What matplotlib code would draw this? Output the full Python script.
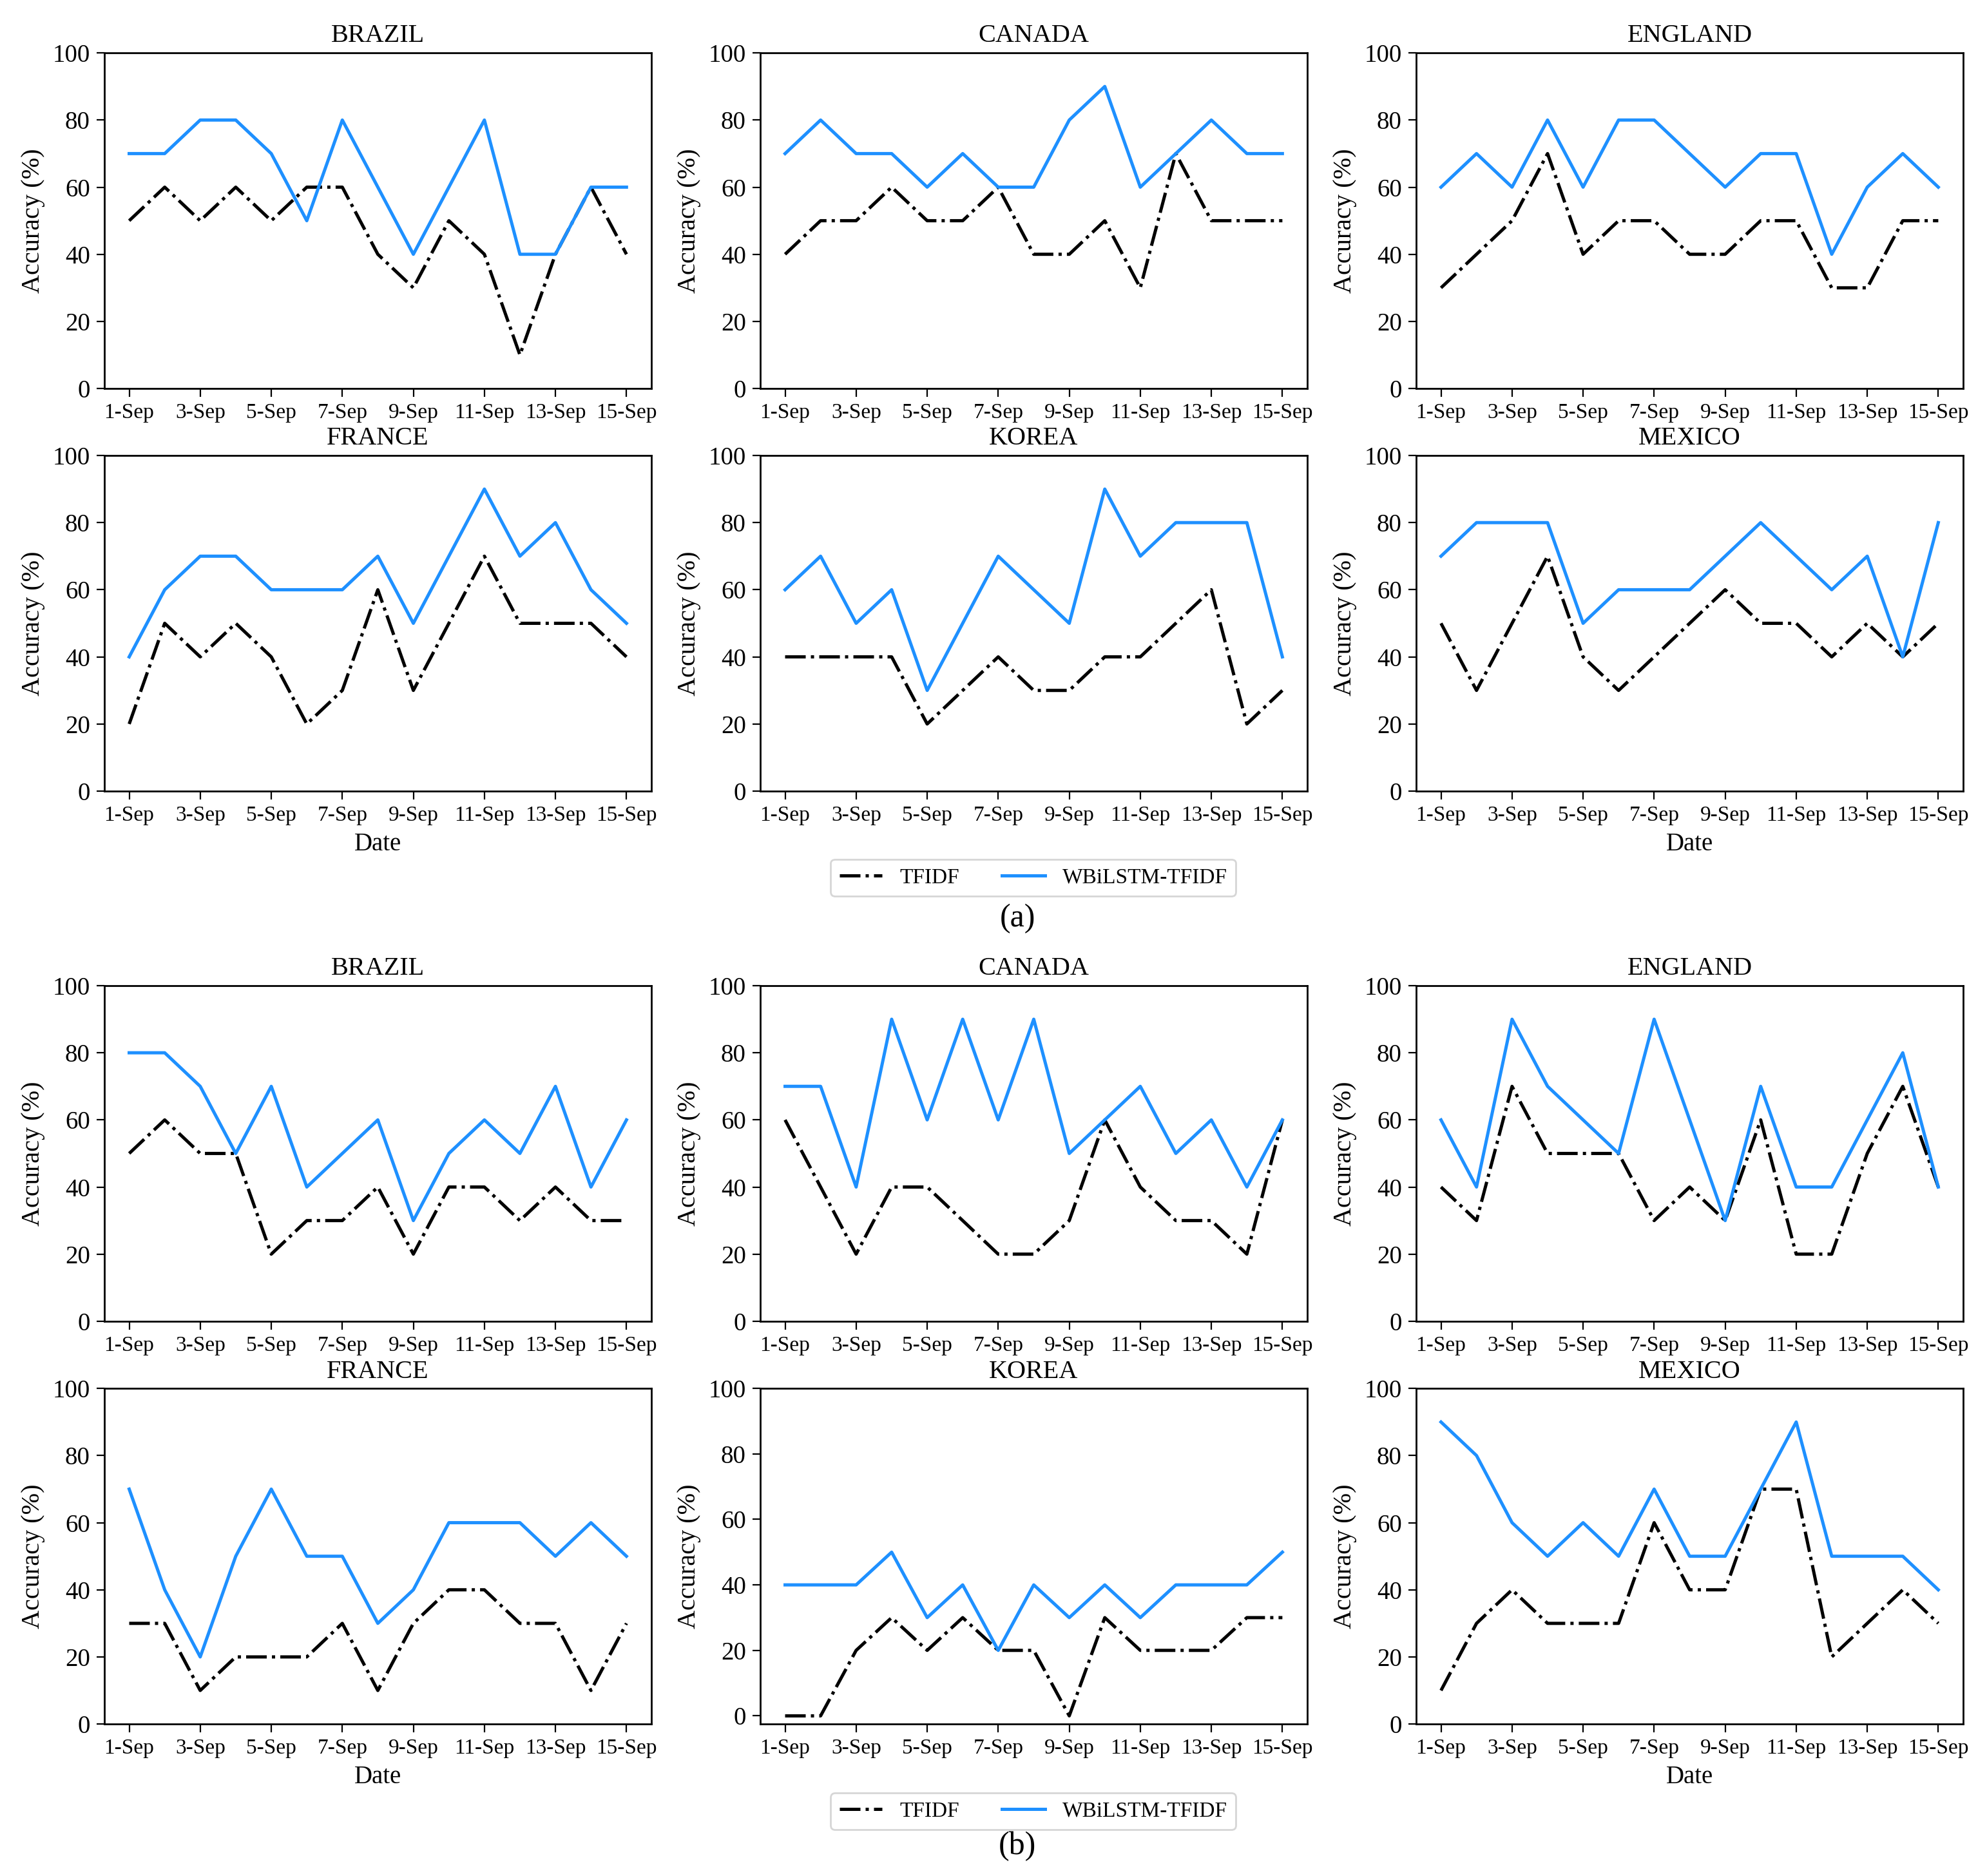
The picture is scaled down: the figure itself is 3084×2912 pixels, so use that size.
import numpy as np
import matplotlib
matplotlib.use('Agg')
import matplotlib.pyplot as plt

plt.rcParams['font.family'] = ['Liberation Serif', 'DejaVu Serif']

days = ['%d-Sep' % d for d in range(1, 16)]
countries = ['BRAZIL', 'CANADA', 'ENGLAND', 'FRANCE', 'KOREA', 'MEXICO']

# (a)
tfidf_a = {
    'BRAZIL':  [50, 60, 50, 60, 50, 60, 60, 40, 30, 50, 40, 10, 40, 60, 40],
    'CANADA':  [40, 50, 50, 60, 50, 50, 60, 40, 40, 50, 30, 70, 50, 50, 50],
    'ENGLAND': [30, 40, 50, 70, 40, 50, 50, 40, 40, 50, 50, 30, 30, 50, 50],
    'FRANCE':  [20, 50, 40, 50, 40, 20, 30, 60, 30, 50, 70, 50, 50, 50, 40],
    'KOREA':   [40, 40, 40, 40, 20, 30, 40, 30, 30, 40, 40, 50, 60, 20, 30],
    'MEXICO':  [50, 30, 50, 70, 40, 30, 40, 50, 60, 50, 50, 40, 50, 40, 50],
}
wbilstm_a = {
    'BRAZIL':  [70, 70, 80, 80, 70, 50, 80, 60, 40, 60, 80, 40, 40, 60, 60],
    'CANADA':  [70, 80, 70, 70, 60, 70, 60, 60, 80, 90, 60, 70, 80, 70, 70],
    'ENGLAND': [60, 70, 60, 80, 60, 80, 80, 70, 60, 70, 70, 40, 60, 70, 60],
    'FRANCE':  [40, 60, 70, 70, 60, 60, 60, 70, 50, 70, 90, 70, 80, 60, 50],
    'KOREA':   [60, 70, 50, 60, 30, 50, 70, 60, 50, 90, 70, 80, 80, 80, 40],
    'MEXICO':  [70, 80, 80, 80, 50, 60, 60, 60, 70, 80, 70, 60, 70, 40, 80],
}

# (b)
tfidf_b = {
    'BRAZIL':  [50, 60, 50, 50, 20, 30, 30, 40, 20, 40, 40, 30, 40, 30, 30],
    'CANADA':  [60, 40, 20, 40, 40, 30, 20, 20, 30, 60, 40, 30, 30, 20, 60],
    'ENGLAND': [40, 30, 70, 50, 50, 50, 30, 40, 30, 60, 20, 20, 50, 70, 40],
    'FRANCE':  [30, 30, 10, 20, 20, 20, 30, 10, 30, 40, 40, 30, 30, 10, 30],
    'KOREA':   [0, 0, 20, 30, 20, 30, 20, 20, 0, 30, 20, 20, 20, 30, 30],
    'MEXICO':  [10, 30, 40, 30, 30, 30, 60, 40, 40, 70, 70, 20, 30, 40, 30],
}
wbilstm_b = {
    'BRAZIL':  [80, 80, 70, 50, 70, 40, 50, 60, 30, 50, 60, 50, 70, 40, 60],
    'CANADA':  [70, 70, 40, 90, 60, 90, 60, 90, 50, 60, 70, 50, 60, 40, 60],
    'ENGLAND': [60, 40, 90, 70, 60, 50, 90, 60, 30, 70, 40, 40, 60, 80, 40],
    'FRANCE':  [70, 40, 20, 50, 70, 50, 50, 30, 40, 60, 60, 60, 50, 60, 50],
    'KOREA':   [40, 40, 40, 50, 30, 40, 20, 40, 30, 40, 30, 40, 40, 40, 50],
    'MEXICO':  [90, 80, 60, 50, 60, 50, 70, 50, 50, 70, 90, 50, 50, 50, 40],
}

fig = plt.figure(figsize=(15.42, 14.56), dpi=200)

lefts = [0.0525, 0.3826, 0.7127]
bottoms = [0.7929, 0.5783, 0.2957, 0.0810]
w, h = 0.2753, 0.1789
x = np.arange(len(days))


def panel(ax, name, tf, wb, date_label, ylow=0):
    l1, = ax.plot(x, tf, color='black', linestyle='-.', lw=1.8, label='TFIDF')
    l2, = ax.plot(x, wb, color='dodgerblue', lw=1.8, label='WBiLSTM-TFIDF')
    ax.set_ylim(ylow, 100)
    ax.set_yticks([0, 20, 40, 60, 80, 100])
    ax.set_xticks(x[::2])
    ax.set_xticklabels(days[::2])
    ax.tick_params(axis='x', labelsize=12, length=4.5)
    ax.tick_params(axis='y', labelsize=14, length=4.5)
    ax.set_title(name, fontsize=14.5, pad=6)
    ax.set_ylabel('Accuracy (%)', fontsize=14.5)
    if date_label:
        ax.set_xlabel('Date', fontsize=14, labelpad=4)
    for s in ax.spines.values():
        s.set_linewidth(1.0)
    return l1, l2


for block, (tfd, wbd) in enumerate([(tfidf_a, wbilstm_a), (tfidf_b, wbilstm_b)]):
    for i, c in enumerate(countries):
        r = block * 2 + i // 3
        col = i % 3
        ax = fig.add_axes([lefts[col], bottoms[r], w, h])
        ylow = -2.5 if (block == 1 and c == 'KOREA') else 0
        handles = panel(ax, c, tfd[c], wbd[c], date_label=(i in (3, 5)), ylow=ylow)

    legend_top = 0.542 if block == 0 else 0.0443
    fig.legend(handles, ['TFIDF', 'WBiLSTM-TFIDF'], loc='upper center',
               bbox_to_anchor=(0.52, legend_top), ncol=2, fontsize=12,
               borderaxespad=0)
    fig.text(0.512, 0.5103 if block == 0 else 0.0158, '(a)' if block == 0 else '(b)',
             ha='center', va='center', fontsize=18)

fig.savefig('out.png', dpi=200)
